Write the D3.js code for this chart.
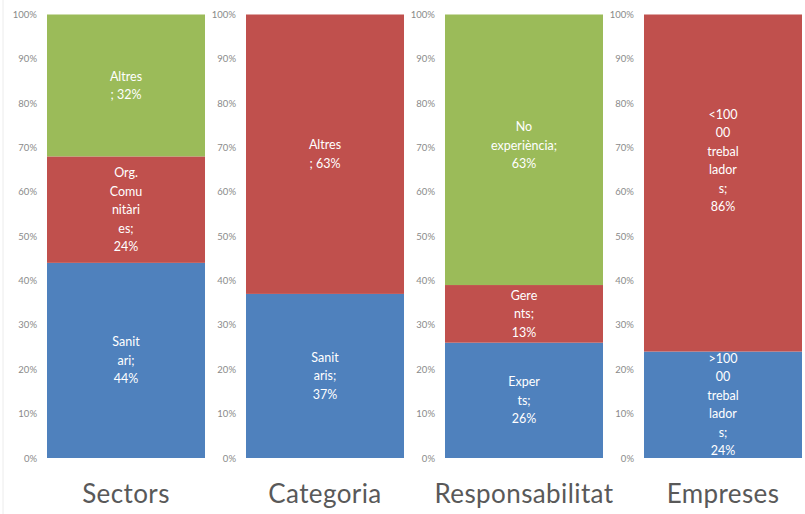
<!DOCTYPE html>
<html>
<head>
<meta charset="utf-8">
<script src="https://cdn.jsdelivr.net/npm/d3@7"></script>
<style>
  body { margin: 0; background: #fff; }
  svg { display: block; font-family: Lato, "Open Sans", sans-serif; }
</style>
</head>
<body>
<svg id="chart" width="805" height="514"></svg>
<script>
// panel titles (one stacked column each)
var panels = ["Sectors", "Categoria", "Responsabilitat", "Empreses"];

// segment values per panel, bottom to top (as printed on the labels)
var sectorsValues = [44, 24, 32];
var categoriaValues = [37, 63];
var responsabilitatValues = [26, 13, 63];
var empresesValues = [24, 86];

// segment names, "|" marks where the label wraps
var sectorsNames = ["Sanit|ari;", "Org.|Comu|nitàri|es;", "Altres"];
var categoriaNames = ["Sanit|aris;", "Altres"];
var responsabilitatNames = ["Exper|ts;", "Gere|nts;", "No|experiència;"];
var empresesNames = [">100|00|trebal|lador|s;", "<100|00|trebal|lador|s;"];

// colour of each segment, bottom to top
var sectorsColors = ["blue", "red", "green"];
var categoriaColors = ["blue", "red"];
var responsabilitatColors = ["blue", "red", "green"];
var empresesColors = ["blue", "red"];

var yTicks = [0, 10, 20, 30, 40, 50, 60, 70, 80, 90, 100];

var palette = { blue: "#4f81bd", red: "#c0504d", green: "#9bbb59" };

var panelData = [
  { values: sectorsValues, names: sectorsNames, colors: sectorsColors },
  { values: categoriaValues, names: categoriaNames, colors: categoriaColors },
  { values: responsabilitatValues, names: responsabilitatNames, colors: responsabilitatColors },
  { values: empresesValues, names: empresesNames, colors: empresesColors }
];

var svg = d3.select("#chart");

// faint slide border on the left
svg.append("line")
   .attr("x1", 3).attr("x2", 3)
   .attr("y1", 0).attr("y2", 514)
   .attr("stroke", "#ececec");

var x = d3.scaleBand()
          .domain(panels)
          .range([47, 802])
          .paddingInner(0.206)
          .paddingOuter(0);

// Excel clips anything above 100%
var y = d3.scaleLinear()
          .domain([0, 100])
          .range([458, 14.5])
          .clamp(true);

var lineHeight = 18.5;

panels.forEach(function(title, i) {
    var p = panelData[i];
    var g = svg.append("g").attr("class", "panel");
    var x0 = x(title);

    //Build the stack segments
    var segs = [];
    var acc = 0;
    for (var k = 0; k < p.values.length; k++) {
        segs.push({ y0: acc, y1: acc + p.values[k], value: p.values[k],
                    name: p.names[k], color: p.colors[k] });
        acc += p.values[k];
    }

    //Y axis labels only, no line
    var axis = d3.axisLeft(y)
                 .tickValues(yTicks)
                 .tickFormat(function(d) { return d + "%"; })
                 .tickSize(0)
                 .tickPadding(10);
    var ax = g.append("g")
              .attr("transform", "translate(" + x0 + ",0)")
              .call(axis);
    ax.select(".domain").remove();
    ax.selectAll("text")
      .attr("fill", "#8a8a8a")
      .style("font-size", "9.5px")
      .style("font-family", "Lato, sans-serif");

    g.selectAll("rect.seg")
     .data(segs)
     .enter().append("rect")
     .attr("class", "seg")
     .attr("x", x0)
     .attr("width", x.bandwidth())
     .attr("y", function(d) { return y(d.y1); })
     .attr("height", function(d) { return y(d.y0) - y(d.y1); })
     .attr("fill", function(d) { return palette[d.color]; });

    //Data labels: name lines then the value
    g.selectAll("text.lbl")
     .data(segs)
     .enter().append("text")
     .attr("class", "lbl")
     .attr("text-anchor", "middle")
     .attr("fill", "#fff")
     .style("font-size", "12.5px")
     .each(function(d) {
         var lines = d.name.split("|");
         var last = lines[lines.length - 1];
         var sep = last.charAt(last.length - 1) == ";" ? "" : "; ";
         lines.push(sep + d.value + "%");
         var cy = y((d.y0 + d.y1) / 2);
         var top = cy - (lines.length - 1) * lineHeight / 2;
         var t = d3.select(this);
         for (var j = 0; j < lines.length; j++) {
             t.append("tspan")
              .attr("x", x0 + x.bandwidth() / 2)
              .attr("y", top + j * lineHeight)
              .attr("dy", "0.35em")
              .text(lines[j]);
         }
     });

    g.append("text")
     .attr("x", x0 + x.bandwidth() / 2)
     .attr("y", 503)
     .attr("text-anchor", "middle")
     .attr("fill", "#595959")
     .style("font-size", "26px")
     .style("letter-spacing", "0.4px")
     .text(title);
});
</script>
</body>
</html>
